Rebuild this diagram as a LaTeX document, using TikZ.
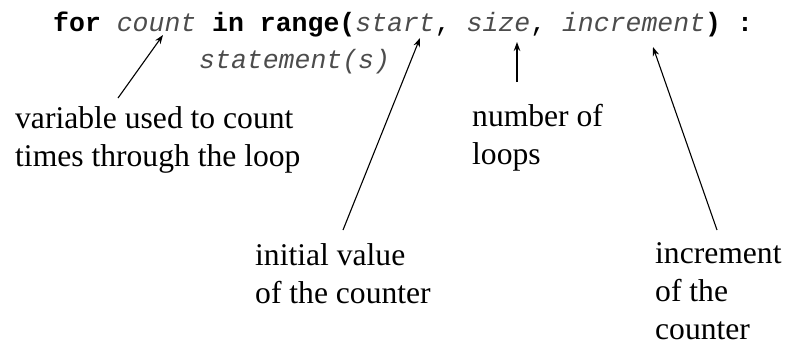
\documentclass[tikz,border=0pt]{standalone}
\usepackage{fontspec}
\setmainfont{Liberation Serif}
\setmonofont{Liberation Mono}
\usetikzlibrary{arrows.meta}
\newcommand\itv[1]{\textcolor{black!70}{\textit{#1}}}
\begin{document}
\begin{tikzpicture}[x=1pt,y=-1pt,
  code/.style={inner sep=0pt, anchor=base west, font=\ttfamily\fontsize{26.5}{30}\selectfont},
  lbl/.style={inner sep=0pt, anchor=base west, align=left, font=\fontsize{31.6}{38}\selectfont},
  arr/.style={line width=1.1pt, -{Stealth[length=9pt,width=6.5pt]}}]
\useasboundingbox (0,0) rectangle (786,346);
\node[code] (code) at (53,31) {\textbf{for} \itv{count} \textbf{in range(}\itv{start}, \itv{size}, \itv{increment}\textbf{) :}};
\node[code] (stmt) at (199,68) {\itv{statement(s)}};
\node[lbl] (lvar) at (15,166) {variable used to count\\times through the loop};
\node[lbl] (lnum) at (472,164) {number of\\loops};
\node[lbl] (linit) at (255,303) {initial value\\of the counter};
\node[lbl] (linc) at (655,339) {increment\\of the\\counter};
\coordinate (h1) at (163,35); \coordinate (t1) at (118,98);
\coordinate (h2) at (420,38); \coordinate (t2) at (343,230);
\coordinate (h3) at (517,42); \coordinate (t3) at (517,82);
\coordinate (h4) at (653,47); \coordinate (t4) at (717,230);
\draw[arr] (t1) -- (h1);
\draw[arr] (t2) -- (h2);
\draw[arr] (t3) -- (h3);
\draw[arr] (t4) -- (h4);
\end{tikzpicture}
\end{document}
